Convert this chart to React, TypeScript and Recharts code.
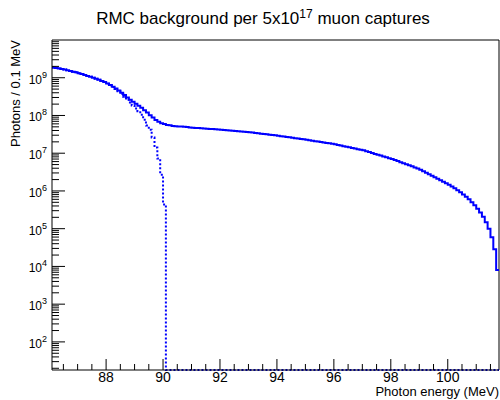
import React from 'react';
import { LineChart, Line, XAxis, YAxis, ReferenceLine } from 'recharts';

const FONT = '"Liberation Sans", Arial, Helvetica, sans-serif';
const BLUE = '#0000ff';

// histogram binning (MeV)
const BIN_START = 86.1;
const BIN_WIDTH = 0.1;
const X_MIN = 86.1;
const X_MAX = 101.8;
const Y_MIN = 18;
const Y_MAX = 1e10;

// photons per 0.1 MeV bin, full spectrum (86.1 - 101.8 MeV)
const fullSpectrum = [
  1.87e9, 1.82e9, 1.76e9, 1.71e9, 1.65e9, 1.58e9, 1.51e9, 1.45e9, 1.39e9,
  1.32e9, 1.25e9, 1.19e9, 1.12e9, 1.06e9, 1.0e9, 9.4e8, 8.8e8, 8.2e8, 7.7e8,
  7.0e8, 6.4e8, 5.8e8, 5.2e8, 4.6e8, 4.0e8, 3.5e8, 3.0e8, 2.6e8, 2.3e8,
  2.06e8, 1.82e8, 1.61e8, 1.38e8, 1.19e8, 1.02e8, 8.8e7, 7.6e7, 6.8e7, 6.2e7,
  5.9e7, 5.6e7, 5.5e7, 5.3e7, 5.2e7, 5.1e7, 5.08e7, 4.99e7, 4.92e7, 4.83e7,
  4.74e7, 4.69e7, 4.63e7, 4.57e7, 4.52e7, 4.47e7, 4.41e7, 4.36e7, 4.3e7, 4.26e7,
  4.21e7, 4.13e7, 4.08e7, 4.01e7, 3.96e7, 3.88e7, 3.84e7, 3.77e7, 3.72e7, 3.66e7,
  3.59e7, 3.52e7, 3.44e7, 3.37e7, 3.29e7, 3.24e7, 3.16e7, 3.1e7, 3.03e7, 2.97e7,
  2.9e7, 2.83e7, 2.76e7, 2.7e7, 2.63e7, 2.57e7, 2.51e7, 2.45e7, 2.39e7, 2.33e7,
  2.27e7, 2.2e7, 2.15e7, 2.09e7, 2.04e7, 1.98e7, 1.93e7, 1.87e7, 1.83e7, 1.77e7,
  1.72e7, 1.66e7, 1.6e7, 1.54e7, 1.49e7, 1.43e7, 1.38e7, 1.33e7, 1.28e7, 1.24e7,
  1.19e7, 1.12e7, 1.07e7, 1.01e7, 9.6e6, 9.1e6, 8.7e6, 8.2e6, 7.8e6, 7.4e6,
  7.0e6, 6.6e6, 6.2e6, 5.8e6, 5.4e6, 5.1e6, 4.8e6, 4.5e6, 4.2e6, 3.95e6,
  3.64e6, 3.32e6, 3.03e6, 2.77e6, 2.53e6, 2.31e6, 2.11e6, 1.92e6, 1.76e6, 1.6e6,
  1.46e6, 1.32e6, 1.18e6, 1.05e6, 9.2e5, 8.1e5, 7.0e5, 6.0e5, 5.0e5, 4.2e5,
  3.4e5, 2.7e5, 2.06e5, 1.48e5, 9.9e4, 5.9e4, 2.86e4, 8.0e3,
];

// photons per 0.1 MeV bin, truncated spectrum; bins above 90.1 MeV are empty
const truncatedSpectrum = [
  1.87e9, 1.82e9, 1.76e9, 1.71e9, 1.65e9, 1.58e9, 1.51e9, 1.45e9, 1.39e9, 1.32e9,
  1.25e9, 1.19e9, 1.12e9, 1.06e9, 1.0e9, 9.4e8, 8.8e8, 8.2e8, 7.6e8, 6.9e8,
  6.3e8, 5.7e8, 5.0e8, 4.4e8, 3.7e8, 3.15e8, 2.6e8, 2.2e8, 1.84e8, 1.54e8,
  1.3e8, 1.05e8, 7.7e7, 5.4e7, 4.2e7, 2.6e7, 1.42e7, 7.2e6, 2.7e6, 4.4e5,
];

const xTicks = [
  86.5, 87, 87.5, 88, 88.5, 89, 89.5, 90, 90.5, 91, 91.5, 92, 92.5, 93, 93.5,
  94, 94.5, 95, 95.5, 96, 96.5, 97, 97.5, 98, 98.5, 99, 99.5, 100, 100.5, 101, 101.5,
];
const xMajorTicks = [88, 90, 92, 94, 96, 98, 100];
const yDecades = [1, 2, 3, 4, 5, 6, 7, 8, 9];

// log axis: 1..9 x 10^n inside the frame
const yTicks: number[] = [];
yDecades.forEach((d) => {
  for (let m = 1; m <= 9; m++) {
    const v = m * Math.pow(10, d);
    if (v >= Y_MIN && v <= Y_MAX) yTicks.push(v);
  }
});

// empty bins sit on the bottom of the log frame, like ROOT does
const floor = (v: number) => Math.max(v, Y_MIN);

const rows = fullSpectrum.map((v, i) => ({
  e: +(BIN_START + i * BIN_WIDTH).toFixed(2),
  full: floor(v),
  truncated: floor(truncatedSpectrum[i] ?? 0),
}));
// closing edge for the step outline
rows.push({
  e: X_MAX,
  full: rows[rows.length - 1].full,
  truncated: rows[rows.length - 1].truncated,
});

const XTick = (props: any) => {
  const { x, y, payload } = props;
  const major = xMajorTicks.includes(payload.value);
  return (
    <g>
      <line x1={x} x2={x} y1={y} y2={y - (major ? 11 : 6)} stroke="#000" />
      {major && (
        <text x={x} y={y + 12} textAnchor="middle" fontSize={14} fontFamily={FONT} fill="#000">
          {payload.value}
        </text>
      )}
    </g>
  );
};

const YTick = (props: any) => {
  const { x, y, payload } = props;
  const lg = Math.log10(payload.value);
  const exp = Math.round(lg);
  const major = Math.abs(lg - exp) < 1e-6;
  return (
    <g>
      <line x1={x} x2={x + (major ? 13 : 7)} y1={y} y2={y} stroke="#000" />
      {major && (
        <text x={x - 5} y={y + 6} textAnchor="end" fontSize={12} fontFamily={FONT} fill="#000">
          10
          <tspan dy={-6} fontSize={9}>
            {exp}
          </tspan>
        </text>
      )}
    </g>
  );
};

const App: React.FC = () => (
  <div style={{ position: 'absolute', left: 0, top: 0, width: 500, height: 400, background: '#fff' }}>
    <LineChart width={500} height={400} data={rows} margin={{ top: 40, right: 1, left: 0, bottom: 0 }}>
      <XAxis
        dataKey="e"
        type="number"
        domain={[X_MIN, X_MAX]}
        ticks={xTicks}
        interval={0}
        height={30}
        tickSize={0}
        tickMargin={0}
        tickLine={false}
        tick={<XTick />}
        axisLine={{ stroke: '#000' }}
      />
      <YAxis
        type="number"
        scale="log"
        domain={[Y_MIN, Y_MAX]}
        ticks={yTicks}
        interval={0}
        width={52}
        tickSize={0}
        tickMargin={0}
        tickLine={false}
        tick={<YTick />}
        axisLine={{ stroke: '#000' }}
      />
      <ReferenceLine y={Y_MAX} stroke="#000" />
      <ReferenceLine x={X_MAX} stroke="#000" />
      <Line
        type="stepAfter"
        dataKey="full"
        stroke={BLUE}
        strokeWidth={2}
        dot={false}
        activeDot={false}
        isAnimationActive={false}
      />
      <Line
        type="stepAfter"
        dataKey="truncated"
        stroke={BLUE}
        strokeWidth={2}
        strokeDasharray="2 2"
        dot={false}
        activeDot={false}
        isAnimationActive={false}
      />
    </LineChart>
    <svg width={500} height={400} style={{ position: 'absolute', left: 0, top: 0, pointerEvents: 'none' }}>
      <text x={263} y={24} textAnchor="middle" fontSize={17} fontFamily={FONT} fill="#000">
        RMC background per 5x10
        <tspan dy={-6} fontSize={12}>
          17
        </tspan>
        <tspan dy={6}>{' muon captures'}</tspan>
      </text>
      <text transform="rotate(-90)" x={-40} y={20} textAnchor="end" fontSize={13} fontFamily={FONT} fill="#000">
        Photons / 0.1 MeV
      </text>
      <text x={499} y={396} textAnchor="end" fontSize={13} fontFamily={FONT} fill="#000">
        Photon energy (MeV)
      </text>
    </svg>
  </div>
);

export default App;
